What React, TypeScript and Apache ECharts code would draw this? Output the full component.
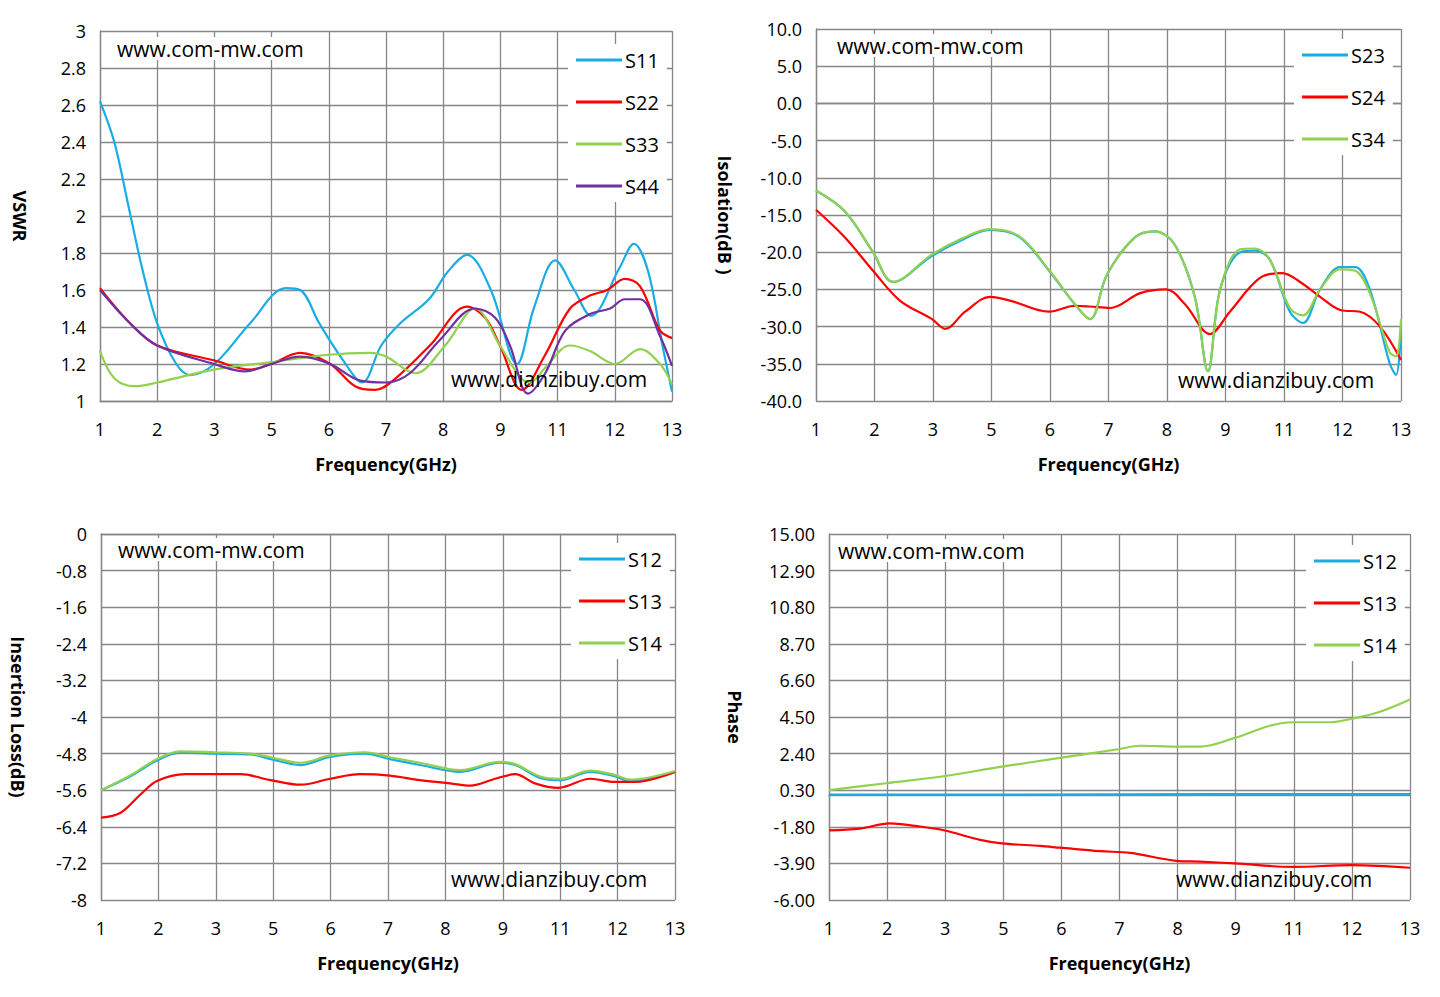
import { useEffect, useRef } from 'react'
import * as echarts from 'echarts'

type Pt = [number, number]

const BLUE = '#1aace4'
const RED = '#ff0000'
const GREEN = '#92d050'
const PURPLE = '#7030a0'

// VSWR
const s11: Pt[] = [[1, 2.62], [1.3, 2.4], [1.6, 2.05], [1.9, 1.7], [2.2, 1.42], [2.6, 1.2], [2.9, 1.14], [3.4, 1.2], [4.15, 1.42], [4.9, 1.61], [5.2, 1.6], [5.6, 1.42], [6.1, 1.22], [6.5, 1.1], [6.9, 1.3], [7.3, 1.42], [7.9, 1.55], [8.3, 1.7], [8.7, 1.79], [9.2, 1.6], [9.75, 1.2], [10.1, 1.5], [10.55, 1.76], [10.95, 1.6], [11.3, 1.46], [11.9, 1.72], [12.2, 1.85], [12.5, 1.7], [12.8, 1.3], [13, 1.05]]
const s22: Pt[] = [[1, 1.61], [1.63, 1.42], [2.2, 1.3], [3.39, 1.22], [4.15, 1.17], [4.59, 1.2], [5.2, 1.26], [5.83, 1.2], [6.35, 1.08], [6.77, 1.06], [7.19, 1.12], [7.92, 1.3], [8.7, 1.51], [9.08, 1.45], [9.39, 1.3], [9.85, 1.06], [10.34, 1.25], [10.86, 1.5], [11.28, 1.57], [11.64, 1.6], [12.01, 1.66], [12.33, 1.62], [12.75, 1.38], [13, 1.34]]
const s33: Pt[] = [[1, 1.27], [1.31, 1.12], [1.73, 1.08], [2.2, 1.1], [3.39, 1.17], [4.59, 1.21], [5.8, 1.25], [6.66, 1.26], [7, 1.24], [7.61, 1.15], [8.24, 1.3], [8.87, 1.5], [9.39, 1.3], [9.81, 1.13], [10.02, 1.1], [10.34, 1.18], [10.86, 1.3], [11.28, 1.27], [11.8, 1.2], [12.33, 1.28], [12.75, 1.2], [13, 1.09]]
const s44: Pt[] = [[1, 1.6], [1.63, 1.42], [2.2, 1.3], [3.39, 1.2], [4.04, 1.16], [4.59, 1.2], [5.2, 1.24], [5.83, 1.2], [6.46, 1.11], [7, 1.1], [7.5, 1.15], [8.13, 1.33], [8.87, 1.5], [9.29, 1.45], [9.6, 1.3], [9.98, 1.04], [10.34, 1.15], [10.76, 1.38], [11.28, 1.47], [11.7, 1.5], [12.01, 1.55], [12.33, 1.55], [12.75, 1.35], [13, 1.19]]

// Isolation
const s23: Pt[] = [[1, -11.7], [1.59, -14.5], [2.17, -20], [2.58, -24], [3.38, -20.5], [3.95, -18.5], [4.57, -17], [5.18, -18], [5.78, -22.5], [6.31, -27], [6.62, -29], [6.97, -23], [7.54, -18], [7.95, -17.2], [8.36, -19], [8.77, -26], [9.04, -36], [9.29, -25], [9.7, -20], [10, -19.8], [10.31, -21], [10.72, -28], [10.99, -29.5], [11.34, -25], [11.75, -22], [12.06, -22], [12.36, -25], [12.77, -35], [12.9, -36.5], [13, -30]]
const s34: Pt[] = [[1, -11.7], [1.59, -14.5], [2.17, -20], [2.58, -24], [3.38, -20.3], [3.95, -18.3], [4.57, -16.9], [5.18, -17.9], [5.78, -22.4], [6.31, -27], [6.62, -29], [6.97, -23], [7.54, -18], [7.95, -17.2], [8.36, -19], [8.77, -26], [9.04, -36], [9.29, -25], [9.7, -19.6], [10, -19.5], [10.31, -21], [10.72, -27.5], [10.99, -28.5], [11.34, -25], [11.75, -22.3], [12.06, -22.5], [12.36, -25.5], [12.77, -33.5], [12.9, -34], [13, -29]]
const s24: Pt[] = [[1, -14.3], [1.59, -18], [2.17, -22.5], [2.72, -26.5], [3.38, -29], [3.65, -30.3], [4.06, -28], [4.57, -26], [4.98, -26.5], [5.78, -28], [6.31, -27.2], [6.62, -27.3], [7.03, -27.5], [7.65, -25.5], [8.18, -25], [8.57, -27], [9.08, -31], [9.49, -28], [10.1, -23.5], [10.56, -22.8], [10.93, -24], [11.34, -26], [11.77, -27.8], [12.16, -28], [12.57, -30], [13, -34.5]]

// Insertion loss
const il12: Pt[] = [[1, -5.6], [1.61, -5.3], [2.17, -4.95], [2.65, -4.78], [3.36, -4.8], [4.12, -4.82], [4.55, -4.92], [5.17, -5.05], [5.79, -4.87], [6.52, -4.8], [7.04, -4.92], [7.67, -5.05], [8.51, -5.2], [9.34, -5.0], [9.66, -5.05], [10.18, -5.33], [10.6, -5.38], [11.23, -5.2], [11.75, -5.3], [12.06, -5.4], [13, -5.2]]
const il14: Pt[] = [[1, -5.6], [1.61, -5.28], [2.17, -4.92], [2.65, -4.75], [3.36, -4.77], [4.12, -4.8], [4.55, -4.88], [5.17, -5.0], [5.79, -4.84], [6.52, -4.77], [7.04, -4.88], [7.67, -5.0], [8.51, -5.16], [9.34, -4.98], [9.66, -5.03], [10.18, -5.3], [10.6, -5.35], [11.23, -5.17], [11.75, -5.27], [12.06, -5.37], [13, -5.18]]
const il13: Pt[] = [[1, -6.2], [1.4, -6.1], [1.82, -5.7], [2.17, -5.4], [2.76, -5.25], [3.36, -5.25], [3.91, -5.25], [4.55, -5.38], [5.17, -5.48], [5.79, -5.35], [6.42, -5.25], [7.04, -5.28], [7.67, -5.38], [8.3, -5.45], [8.72, -5.5], [9.24, -5.35], [9.66, -5.25], [10.07, -5.45], [10.56, -5.55], [11.23, -5.35], [11.75, -5.42], [12.17, -5.42], [13, -5.2]]

// Phase
const ph12: Pt[] = [[1, 0.05], [5, 0.05], [9, 0.07], [13, 0.08]]
const ph14: Pt[] = [[1, 0.3], [2.18, 0.7], [3.37, 1.1], [4.57, 1.65], [5.77, 2.15], [6.97, 2.65], [7.42, 2.85], [8.17, 2.8], [8.66, 2.8], [9.38, 3.3], [10.11, 4.0], [10.58, 4.2], [11.35, 4.2], [11.8, 4.4], [12.38, 4.8], [13, 5.5]]
const ph13: Pt[] = [[1, -2.0], [1.64, -1.9], [2.26, -1.6], [2.78, -1.75], [3.37, -2.0], [4.12, -2.55], [4.57, -2.75], [5.36, -2.9], [5.77, -3.0], [6.6, -3.2], [7.22, -3.3], [8.17, -3.75], [8.66, -3.8], [9.38, -3.9], [10.58, -4.1], [11.8, -4.0], [13, -4.15]]

const FONT = '"Open Sans", "Liberation Sans", sans-serif'

type Panel = {
  left: number; top: number; width: number; height: number
  min: number; max: number; interval: number; digits: number | null
  yName: string; yNameX: number
  series: { name: string; data: Pt[]; color: string }[]
  legendTop: number; legendLeft: number
}

const panels: Panel[] = [
  { left: 100, top: 31, width: 572, height: 370, min: 1, max: 3, interval: 0.2, digits: null, yName: 'VSWR', yNameX: 20,
    series: [{ name: 'S11', data: s11, color: BLUE }, { name: 'S22', data: s22, color: RED }, { name: 'S33', data: s33, color: GREEN }, { name: 'S44', data: s44, color: PURPLE }],
    legendTop: 44, legendLeft: 568 },
  { left: 816, top: 29, width: 585, height: 372, min: -40, max: 10, interval: 5, digits: 1, yName: 'Isolation(dB )', yNameX: 725,
    series: [{ name: 'S23', data: s23, color: BLUE }, { name: 'S24', data: s24, color: RED }, { name: 'S34', data: s34, color: GREEN }],
    legendTop: 39, legendLeft: 1294 },
  { left: 101, top: 534, width: 574, height: 366, min: -8, max: 0, interval: 0.8, digits: null, yName: 'Insertion Loss(dB)', yNameX: 18,
    series: [{ name: 'S12', data: il12, color: BLUE }, { name: 'S13', data: il13, color: RED }, { name: 'S14', data: il14, color: GREEN }],
    legendTop: 543, legendLeft: 571 },
  { left: 829, top: 534, width: 581, height: 366, min: -6, max: 15, interval: 2.1, digits: 2, yName: 'Phase', yNameX: 735,
    series: [{ name: 'S12', data: ph12, color: BLUE }, { name: 'S13', data: ph13, color: RED }, { name: 'S14', data: ph14, color: GREEN }],
    legendTop: 545, legendLeft: 1306 },
]

const watermarks: { text: string; x: number; y: number; bg: boolean }[] = [
  { text: 'www.com-mw.com', x: 114, y: 37, bg: true },
  { text: 'www.dianzibuy.com', x: 451, y: 368, bg: false },
  { text: 'www.com-mw.com', x: 834, y: 34, bg: true },
  { text: 'www.dianzibuy.com', x: 1178, y: 369, bg: false },
  { text: 'www.com-mw.com', x: 115, y: 538, bg: true },
  { text: 'www.dianzibuy.com', x: 451, y: 868, bg: false },
  { text: 'www.com-mw.com', x: 835, y: 539, bg: true },
  { text: 'www.dianzibuy.com', x: 1176, y: 868, bg: false },
]

export default function App() {
  const ref = useRef<HTMLDivElement>(null)

  useEffect(() => {
    if (!ref.current) return
    const chart = echarts.init(ref.current, undefined, { renderer: 'svg' })
    const grid = panels.map((p) => ({ left: p.left, top: p.top, width: p.width, height: p.height }))
    const gridLine = { show: true, lineStyle: { color: '#878787', width: 1.3 } }
    const xAxis = panels.map((p, i) => ({
      type: 'value' as const, gridIndex: i, min: 0, max: 12, interval: 1.2,
      axisLine: { show: true, lineStyle: { color: '#878787', width: 1.3 } },
      axisTick: { show: false }, splitLine: gridLine,
      axisLabel: { color: '#000', fontSize: 18, fontFamily: FONT, margin: 19, formatter: (v: number) => String(Math.round(v + 1)) },
      name: 'Frequency(GHz)', nameLocation: 'middle' as const, nameGap: 54,
      nameTextStyle: { color: '#000', fontSize: 18, fontWeight: 'bold' as const, fontFamily: FONT },
    }))
    const yAxis = panels.map((p, i) => ({
      type: 'value' as const, gridIndex: i, min: p.min, max: p.max, interval: p.interval,
      axisLine: { show: true, lineStyle: { color: '#878787', width: 1.3 } },
      axisTick: { show: false }, splitLine: gridLine,
      axisLabel: { color: '#000', fontSize: 18, fontFamily: FONT, margin: 14,
        formatter: (v: number) => p.digits === null ? String(Math.round(v * 10) / 10) : v.toFixed(p.digits) },
    }))
    const series: any[] = []
    panels.forEach((p, i) => p.series.forEach((s) => series.push({
      type: 'line', name: `${s.name}_${i}`, xAxisIndex: i, yAxisIndex: i, smooth: 0.35,
      showSymbol: false, clip: false,
      data: s.data.map(([f, v]) => [f - 1, v]), lineStyle: { color: s.color, width: 2.2 }, itemStyle: { color: s.color },
    })))
    const legend = panels.map((p, i) => ({
      orient: 'vertical' as const, left: p.legendLeft, top: p.legendTop, itemGap: 22,
      backgroundColor: '#fff', padding: [6, 8, 6, 8], itemWidth: 46, itemHeight: 3,
      icon: 'rect', selectedMode: false,
      data: p.series.map((s) => `${s.name}_${i}`),
      formatter: (n: string) => n.split('_')[0],
      textStyle: { color: '#000', fontSize: 20, fontFamily: FONT, padding: [0, 0, 0, -2] },
    }))
    const graphic: any[] = [
      ...watermarks.map((w) => ({ type: 'text', left: w.x, top: w.y, z: 100,
        style: { text: w.text, fontSize: 21, fontFamily: FONT, fill: '#000', backgroundColor: w.bg ? '#fff' : undefined, padding: [1, 3] } })),
      ...panels.map((p) => ({ type: 'text', x: p.yNameX, y: p.top + p.height / 2, rotation: -Math.PI / 2,
        style: { text: p.yName, fontSize: 18, fontWeight: 'bold', fontFamily: FONT, fill: '#000', align: 'center', verticalAlign: 'middle' } })),
    ]
    chart.setOption({ animation: false, backgroundColor: '#fff', grid, xAxis, yAxis, series, legend, graphic })
    return () => chart.dispose()
  }, [])

  return <div ref={ref} style={{ position: 'absolute', left: 0, top: 0, width: 1440, height: 997 }} />
}
